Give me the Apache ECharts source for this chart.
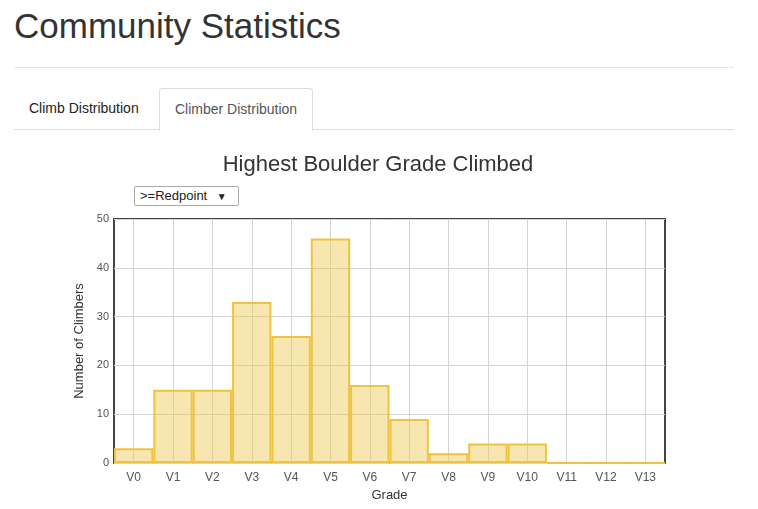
<!DOCTYPE html>
<html><head><meta charset="utf-8">
<script src="https://cdn.jsdelivr.net/npm/echarts@6/dist/echarts.min.js"></script>
<style>
body{margin:0;width:758px;height:509px;font-family:"Liberation Sans",Arial,sans-serif;position:relative;overflow:hidden;background:#fff}
h1{position:absolute;left:14px;top:6px;margin:0;font-weight:400;font-size:35px;color:#333}
.hr{position:absolute;left:14px;top:67px;width:720px;border-top:1px solid #e5e5e5}
.tabline{position:absolute;left:14px;top:129px;width:720px;border-top:1px solid #ddd}
.tab{position:absolute;top:88px;height:41px;line-height:41px;font-size:14px;color:#222;padding:0 15px}
.t2{border:1px solid #ddd;border-bottom:1px solid #fff;border-radius:4px 4px 0 0;color:#555;background:#fff;z-index:2;height:41px}
#c{position:absolute;left:0;top:0;width:758px;height:509px}
.sel{position:absolute;left:134px;top:186px;width:98px;height:18px;border:1px solid #aaa;border-radius:2px;font-size:13px;line-height:18px;padding-left:5px;box-sizing:content-box;color:#222;z-index:3;background:#fff}
</style></head><body>
<h1>Community Statistics</h1>
<div class="hr"></div>
<div class="tab" style="left:14px">Climb Distribution</div>
<div class="tab t2" style="left:159px">Climber Distribution</div>
<div class="tabline"></div>
<div id="c"></div>
<div class="sel">&gt;=Redpoint <span style="font-size:10px;margin-left:6px">▼</span></div>
<script>
const grades=["V0","V1","V2","V3","V4","V5","V6","V7","V8","V9","V10","V11","V12","V13"];
const climbers=[3,15,15,33,26,46,16,9,2,4,4,0,0,0];
const chart=echarts.init(document.getElementById('c'));
chart.setOption({
 animation:false,
 title:{text:'Highest Boulder Grade Climbed',left:373,textAlign:'center',top:149,textStyle:{fontSize:22,fontWeight:'normal',color:'#333',fontFamily:'Liberation Sans'}},
 grid:{left:114,right:93,top:219,bottom:46,show:true,borderColor:'#444',borderWidth:2},
 xAxis:{type:'category',data:grades,name:'Grade',nameLocation:'middle',nameGap:26,nameTextStyle:{fontSize:13,color:'#333'},
  axisLine:{show:false},axisTick:{show:false},axisLabel:{color:'#555',fontSize:12,margin:9},
  splitLine:{show:true,alignWithLabel:true,lineStyle:{color:'#d4d4d4'}}},
 yAxis:{type:'value',min:0,max:50,interval:10,name:'Number of Climbers',nameLocation:'middle',nameGap:26,nameTextStyle:{fontSize:13,color:'#333'},
  axisLine:{show:false},axisTick:{show:false},axisLabel:{color:'#555',fontSize:11,margin:5},splitLine:{lineStyle:{color:'#d4d4d4'}}},
 series:[{type:'bar',data:climbers,barCategoryGap:'0%',itemStyle:{color:'rgba(240,200,80,0.45)',borderColor:'#efc23f',borderWidth:2}}]
});
</script></body></html>
